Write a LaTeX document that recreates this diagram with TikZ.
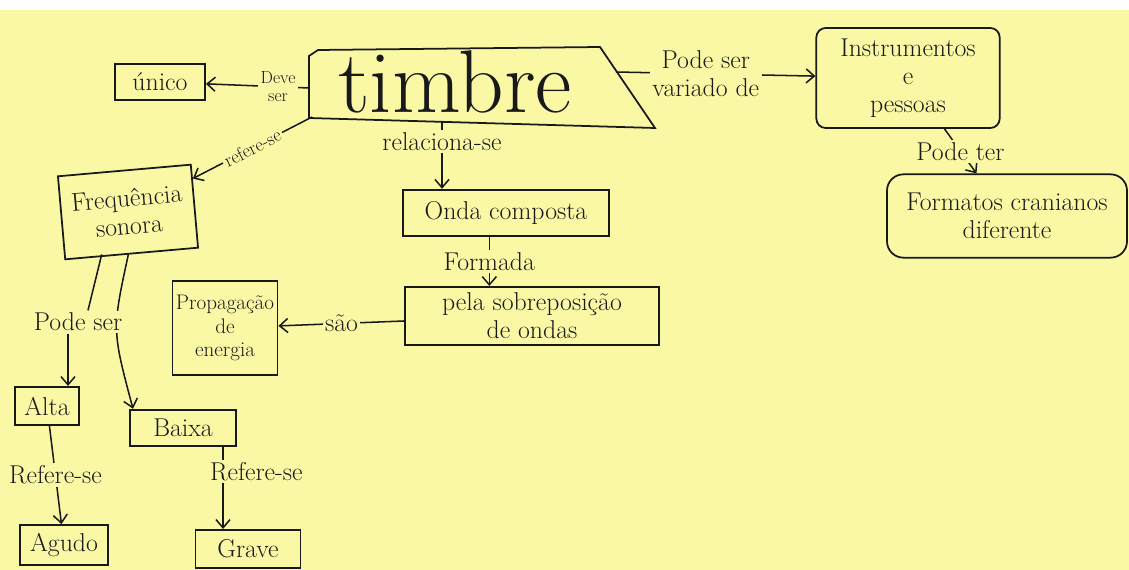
\documentclass[tikz,border=0pt]{standalone}
\usetikzlibrary{arrows.meta}
\definecolor{paper}{RGB}{251,248,165}
\definecolor{ink}{RGB}{25,25,25}

\begin{document}
\begin{tikzpicture}[
x=0.03cm,y=-0.03cm,
every node/.style={text=ink,font=\fontsize{22}{24}\selectfont},
box/.style={
rectangle,draw=ink,line width=1.5pt,
align=center,inner sep=3pt
},
rbox/.style={box,rounded corners=8pt},
lbl/.style={fill=paper,inner sep=2pt,align=center},
line/.style={draw=ink,line width=1.3pt},
arrow/.style={line,-{Straight Barb[length=7pt,width=12pt]}}
]

% =======================
% PAPER
% =======================

\useasboundingbox (0,0) rectangle (1129,570);
\fill[white] (0,0) rectangle (1129,570);
\fill[paper] (0,10) rectangle (1129,570);

% =======================
% TIMBRE (CENTER)
% =======================

\node[font=\fontsize{76}{78}\selectfont] (timbre) at (455,82) {timbre};
\draw[line,line width=1.5pt] (309,118) -- (309,56) -- (318,50) -- (600,47) -- (655,128) -- cycle;

\coordinate (tw) at (309,88);
\coordinate (te) at (616,72);
\coordinate (tb) at (442,121);
\coordinate (tsw) at (312,117);

% =======================
% TOP ROW
% =======================

\node[box,minimum width=2.7cm,minimum height=1.1cm] (unico) at (160,82) {único};

\node[rbox,minimum width=5.5cm,minimum height=3cm] (inst) at (908,78)
{Instrumentos\\e\\pessoas};

\node[rbox,rounded corners=14pt,minimum width=7.2cm,minimum height=2.5cm] (form) at (1007,216)
{Formatos cranianos\\diferente};

% =======================
% MIDDLE
% =======================

\node[box,rotate=5,minimum width=4cm,minimum height=2.5cm] (freq) at (128,212)
{Frequência\\sonora};

\node[box,minimum width=6.2cm,minimum height=1.4cm] (onda) at (506,213) {Onda composta};

\node[box,minimum width=7.6cm,minimum height=1.75cm] (pela) at (532,316)
{pela sobreposição\\de ondas};

\node[box,minimum width=3cm,minimum height=2.8cm,font=\fontsize{18}{20}\selectfont] (prop) at (225,328)
{Propagação\\de\\energia};

% =======================
% BOTTOM LEFT
% =======================

\node[box,minimum width=1.9cm,minimum height=1.15cm] (alta) at (47,406) {Alta};
\node[box,minimum width=3.2cm,minimum height=1.1cm] (baixa) at (183,428) {Baixa};
\node[box,minimum width=2.65cm,minimum height=1.2cm] (agudo) at (64,545) {Agudo};
\node[box,minimum width=3.15cm,minimum height=1.15cm] (grave) at (248,549) {Grave};

% =======================
% ARROWS
% =======================

\draw[arrow] (tw) -- node[lbl,pos=0.3,font=\fontsize{15}{15}\selectfont]{Deve\\ser} (unico);
\draw[arrow] (te) -- node[lbl,pos=0.45]{Pode ser\\variado de} (inst);
\draw[arrow] (inst) -- node[lbl]{Pode ter} (form);
\draw[arrow] (tsw) -- node[lbl,sloped,font=\fontsize{16}{16}\selectfont]{refere-se} (freq);
\draw[arrow] (tb) -- node[lbl,pos=0.3]{relaciona-se} (tb |- onda.north);
\draw[arrow] ([xshift=-0.5cm]onda.south) -- node[lbl]{Formada} ([xshift=-0.5cm]onda.south |- pela.north);
\draw[arrow] (pela) -- node[lbl]{são} (prop);

\draw[arrow] ([xshift=-0.1cm]freq.south) .. controls (112,330) .. ([xshift=-1.5cm]baixa.north);
\node[lbl] (podeser) at (78,322) {Pode ser};
\draw[line] ([xshift=-0.9cm]freq.south) -- ([xshift=0.3cm]podeser.north);
\draw[arrow] ([xshift=-0.3cm]podeser.south) -- ([xshift=-0.3cm]podeser.south |- alta.north);

\draw[arrow] (alta) -- node[lbl]{Refere-se} (agudo);
\draw[arrow] ([xshift=1.2cm]baixa.south) -- node[lbl,pos=0.3,xshift=1cm]{Refere-se} ([xshift=1.2cm]baixa.south |- grave.north);

\end{tikzpicture}
\end{document}
